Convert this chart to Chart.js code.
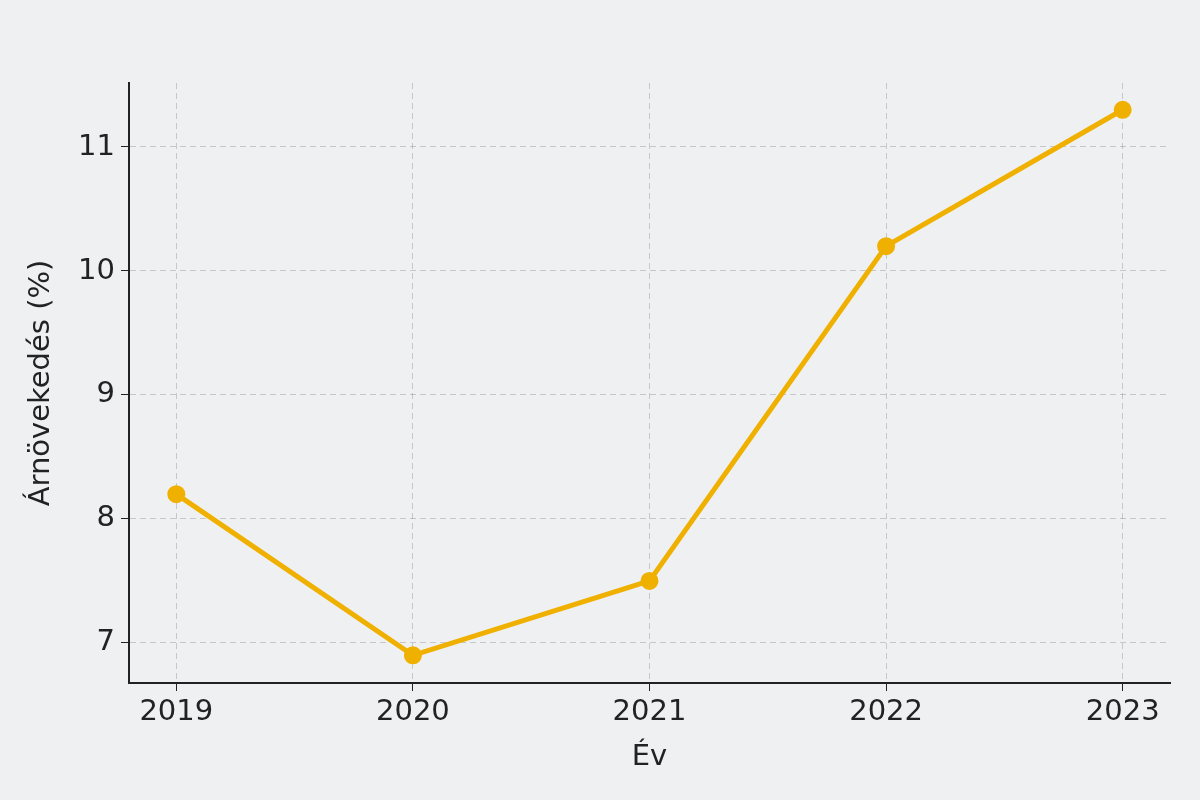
<!DOCTYPE html>
<html><head><meta charset="utf-8">
<script src="https://cdn.jsdelivr.net/npm/chart.js@4"></script>
<style>html,body{margin:0;background:#eff0f2}#w{width:1200px;height:800px}</style>
</head><body><div id="w"><canvas id="c"></canvas></div>
<script>
const years = [2019, 2020, 2021, 2022, 2023];
const growth = [8.2, 6.9, 7.5, 10.2, 11.3];
const yTicks = [7, 8, 9, 10, 11];
const color = '#f0b000';
Chart.defaults.font.family = 'DejaVu Sans';
Chart.defaults.color = '#222';
new Chart(document.getElementById('c'), {
  type: 'line',
  data: { datasets: [{ data: years.map((y, i) => ({ x: y, y: growth[i] })),
    borderColor: color, backgroundColor: color, borderWidth: 5,
    pointRadius: 6.5, pointHoverRadius: 6.5, tension: 0 }] },
  options: {
    responsive: true, maintainAspectRatio: false, animation: false,
    layout: { padding: { top: 83, right: 30, left: 24, bottom: 25 } },
    plugins: { legend: { display: false }, tooltip: { enabled: false } },
    scales: {
      x: { type: 'linear', min: 2018.8, max: 2023.2,
        afterBuildTicks: s => { s.ticks = years.map(v => ({ value: v })); },
        afterFit: s => { s.height = 92; },
        ticks: { font: { size: 29 }, color: '#222', padding: 4, callback: v => String(v) },
        grid: { color: 'rgba(0,0,0,0.17)', drawTicks: true, tickLength: 8, tickColor: '#222' },
        border: { display: true, color: '#222', width: 2, dash: [6, 4] },
        title: { display: true, text: 'Év', font: { size: 29 }, color: '#222', padding: { top: 0, bottom: 0 } } },
      y: { min: 6.677, max: 11.516,
        afterBuildTicks: s => { s.ticks = yTicks.map(v => ({ value: v })); },
        afterFit: s => { s.width = 105; },
        ticks: { font: { size: 29 }, color: '#222', padding: 6 },
        grid: { color: 'rgba(0,0,0,0.17)', tickLength: 8, tickColor: '#222' },
        border: { display: true, color: '#222', width: 2, dash: [6, 4] },
        title: { display: true, text: 'Árnövekedés (%)', font: { size: 29 }, color: '#222', padding: 0 } }
    }
  },
  plugins: [{ id: 'bg', beforeDraw: c => { const x = c.ctx; x.save(); x.fillStyle = '#eff0f2'; x.fillRect(0, 0, c.width, c.height); x.restore(); } }]
});
</script></body></html>
